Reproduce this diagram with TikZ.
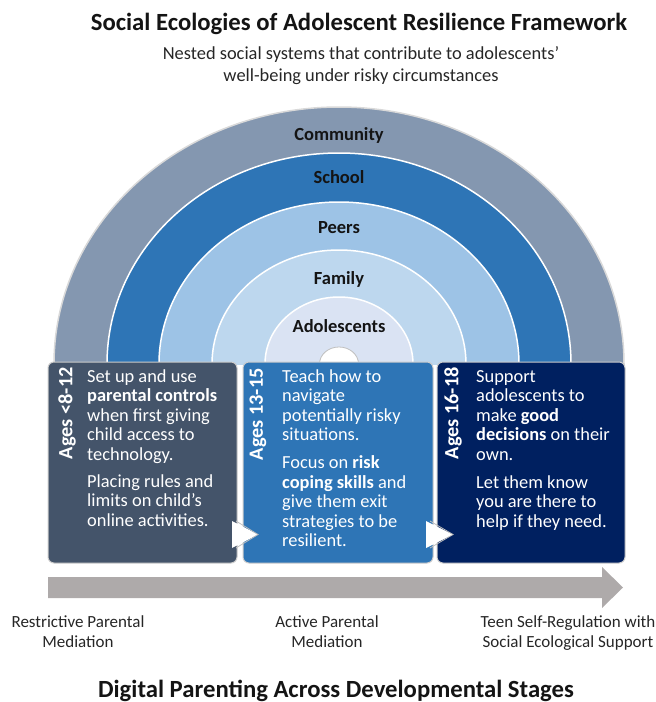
\documentclass[tikz,border=0pt]{standalone}
\usepackage{fontspec}
\setmainfont{Carlito}
\usetikzlibrary{positioning}

\definecolor{commgray}{HTML}{8497B0}
\definecolor{schoolblue}{HTML}{2E75B6}
\definecolor{peersblue}{HTML}{9DC3E6}
\definecolor{familyblue}{HTML}{BDD7EE}
\definecolor{adolblue}{HTML}{DAE3F3}
\definecolor{stageone}{HTML}{44546A}
\definecolor{stagetwo}{HTML}{2E75B6}
\definecolor{stagethree}{HTML}{002060}
\definecolor{arrowgray}{HTML}{AEAAAA}
\definecolor{darktext}{HTML}{262626}
\definecolor{labelblack}{HTML}{141414}

% line stacks that sit on their first baseline
\newcommand{\leftlines}[1]{\begin{tabular}[t]{@{}l@{}}#1\end{tabular}}
\newcommand{\midlines}[1]{\begin{tabular}[t]{@{}c@{}}#1\end{tabular}}

\tikzset{
  ring/.style={draw=white, line width=1.5pt},
  heading/.style={font=\bfseries\fontsize{24.7}{28}\selectfont, text=labelblack, anchor=base, inner sep=0pt},
  ringlabel/.style={font=\bfseries\fontsize{18.5}{20}\selectfont, text=labelblack, anchor=base, inner sep=0pt},
  stagebox/.style={draw=gray!40, line width=1pt, rounded corners=6pt},
  agelabel/.style={font=\bfseries\fontsize{20.3}{22}\selectfont, text=white, rotate=90, anchor=east, inner sep=0pt},
  stagetext/.style={font=\fontsize{18.4}{19.6}\selectfont, text=white, anchor=base west, inner sep=0pt},
  modelabel/.style={font=\fontsize{17}{20}\selectfont, text=darktext, anchor=base, inner sep=0pt},
  stepmark/.style={fill=white}
}

\begin{document}
\begin{tikzpicture}[x=1pt, y=-1pt]
    \useasboundingbox (0,0) rectangle (656,702);

    % headings
    \node[heading] (title) at (359,30) {Social Ecologies of Adolescent Resilience Framework};
    \node[modelabel, font=\fontsize{18.4}{22}\selectfont]
        (subtitle) at (361,59) {\midlines{Nested social systems that contribute to adolescents’\\well-being under risky circumstances}};

    % nested rings, cut off at the top of the boxes
    \coordinate (O) at (339,364);
    \begin{scope}
        \clip (0,0) rectangle (656,364);
        \draw[ring, fill=commgray, draw=gray!30] (O) ellipse [x radius=285, y radius=257];
        \draw[ring, fill=schoolblue] (O) ellipse [x radius=232, y radius=211];
        \draw[ring, fill=peersblue] (O) ellipse [x radius=180, y radius=162];
        \draw[ring, fill=familyblue] (O) ellipse [x radius=127, y radius=114];
        \draw[ring, fill=adolblue] (O) ellipse [x radius=74, y radius=67];
        \draw[fill=white, draw=gray!50, line width=0.8pt] (O) ellipse [x radius=19.5, y radius=17];
    \end{scope}

    \node[ringlabel] (community) at (339,140) {Community};
    \node[ringlabel] (school) at (339,183.5) {School};
    \node[ringlabel] (peers) at (339,233) {Peers};
    \node[ringlabel] (family) at (339,284) {Family};
    \node[ringlabel] (adolescents) at (339,332) {Adolescents};

    % stage boxes
    \draw[stagebox, fill=stageone] (48,362) rectangle (237,563);
    \draw[stagebox, fill=stagetwo] (243,362) rectangle (433,563);
    \draw[stagebox, fill=stagethree] (437,362) rectangle (625,563);

    % markers between the stages
    \fill[stepmark] (232,521) -- (258,534.5) -- (232,548) -- cycle;
    \draw[gray!50, line width=0.8pt] (236,521) -- (258,534.5) -- (236,548);
    \fill[stepmark] (426,521) -- (453,534.5) -- (426,548) -- cycle;
    \draw[gray!50, line width=0.8pt] (430,521) -- (453,534.5) -- (430,548);

    \node[agelabel] (ageA) at (67,367) {Ages <8-12};
    \node[agelabel] (ageB) at (258,368) {Ages 13-15};
    \node[agelabel] (ageC) at (453,367) {Ages 16-18};

    \node[stagetext] (textA) at (87,382) {\leftlines{Set up and use\\{\bfseries parental controls}\\when first giving\\child access to\\technology.\\[7pt]Placing rules and\\limits on child’s\\online activities.}};
    \node[stagetext] (textB) at (282,382) {\leftlines{Teach how to\\navigate\\potentially risky\\situations.\\[8pt]Focus on {\bfseries risk}\\{\bfseries coping skills} and\\give them exit\\strategies to be\\resilient.}};
    \node[stagetext] (textC) at (476,382) {\leftlines{Support\\adolescents to\\make {\bfseries good}\\{\bfseries decisions} on their\\own.\\[8pt]Let them know\\you are there to\\help if they need.}};

    % progression arrow
    \fill[arrowgray] (48,577) -- (602,577) -- (602,567) -- (623,587.5)
        -- (602,608) -- (602,598) -- (48,598) -- cycle;

    \node[modelabel] (restrictive) at (78,627) {\midlines{Restrictive Parental\\Mediation}};
    \node[modelabel] (active) at (327,627) {\midlines{Active Parental\\Mediation}};
    \node[modelabel] (selfreg) at (568,627) {\midlines{Teen Self-Regulation with\\Social Ecological Support}};

    \node[heading] (bottomtitle) at (336,697) {Digital Parenting Across Developmental Stages};
\end{tikzpicture}
\end{document}
